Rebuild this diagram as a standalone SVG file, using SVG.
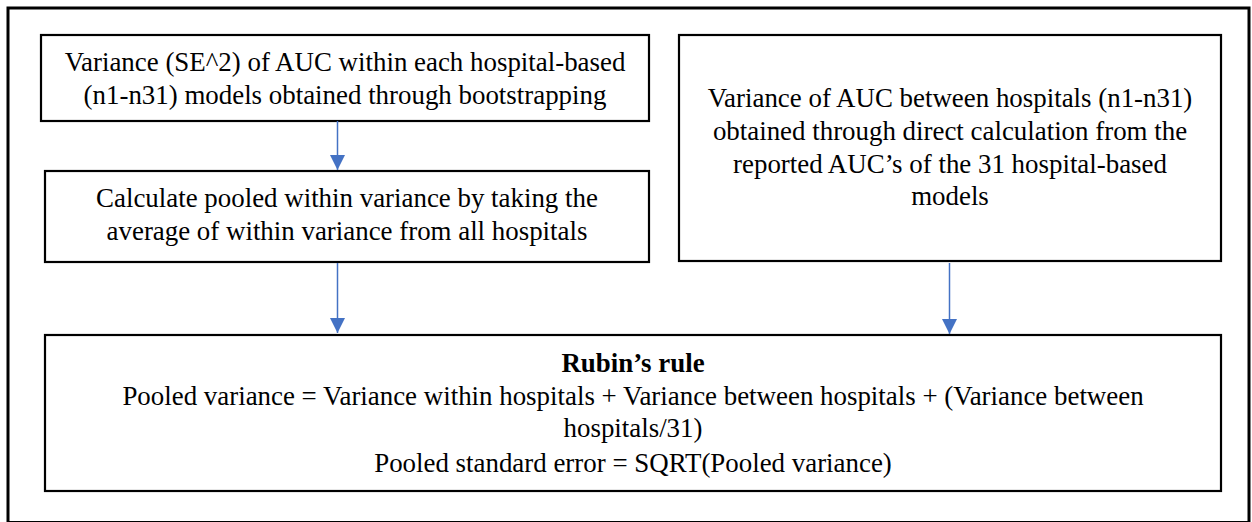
<svg xmlns="http://www.w3.org/2000/svg" width="1252" height="522" viewBox="0 0 1252 522">
<style>
.box{fill:#fff;stroke:#000;stroke-width:2.2}
.t{font-size:26.9px;fill:#000;text-anchor:middle}
.b{font-weight:bold}
.conn{stroke:#4472C4;stroke-width:1.5;fill:none}
</style>
<defs>
<marker id="ah" markerWidth="15" markerHeight="15" viewBox="0 0 15 15" refX="15" refY="7.5" orient="auto" markerUnits="userSpaceOnUse">
<path d="M0,0 L15,7.5 L0,15 Z" fill="#4472C4"/>
</marker>
</defs>
<rect x="0" y="0" width="1252" height="522" fill="#fff"/>
<rect x="8" y="8" width="1241" height="514.5" fill="none" stroke="#000" stroke-width="3"/>
<g font-family="Liberation Serif, DejaVu Serif, Times New Roman, serif">
<g id="node-within">
<rect class="box" x="41" y="35" width="608" height="86"/>
<text class="t" x="345" y="71">Variance (SE^2) of AUC within each hospital-based</text>
<text class="t" x="345" y="104">(n1-n31) models obtained through bootstrapping</text>
</g>
<g id="node-pooled-within">
<rect class="box" x="45" y="171" width="604" height="91"/>
<text class="t" x="347" y="207">Calculate pooled within variance by taking the</text>
<text class="t" x="347" y="240">average of within variance from all hospitals</text>
</g>
<g id="node-between">
<rect class="box" x="679" y="35" width="542" height="226"/>
<text class="t" x="950" y="107">Variance of AUC between hospitals (n1-n31)</text>
<text class="t" x="950" y="140">obtained through direct calculation from the</text>
<text class="t" x="950" y="173">reported AUC’s of the 31 hospital-based</text>
<text class="t" x="950" y="205">models</text>
</g>
<g id="node-rubin">
<rect class="box" x="45" y="335" width="1176" height="156"/>
<text class="t b" x="633" y="372">Rubin’s rule</text>
<text class="t" x="633" y="405">Pooled variance = Variance within hospitals + Variance between hospitals + (Variance between</text>
<text class="t" x="633" y="437">hospitals/31)</text>
<text class="t" x="633" y="472">Pooled standard error = SQRT(Pooled variance)</text>
</g>
</g>
<g id="connectors">
<line class="conn" x1="337.5" y1="121" x2="337.5" y2="170" marker-end="url(#ah)"/>
<line class="conn" x1="337.5" y1="263" x2="337.5" y2="333" marker-end="url(#ah)"/>
<line class="conn" x1="949.5" y1="263" x2="949.5" y2="334" marker-end="url(#ah)"/>
</g>
</svg>
